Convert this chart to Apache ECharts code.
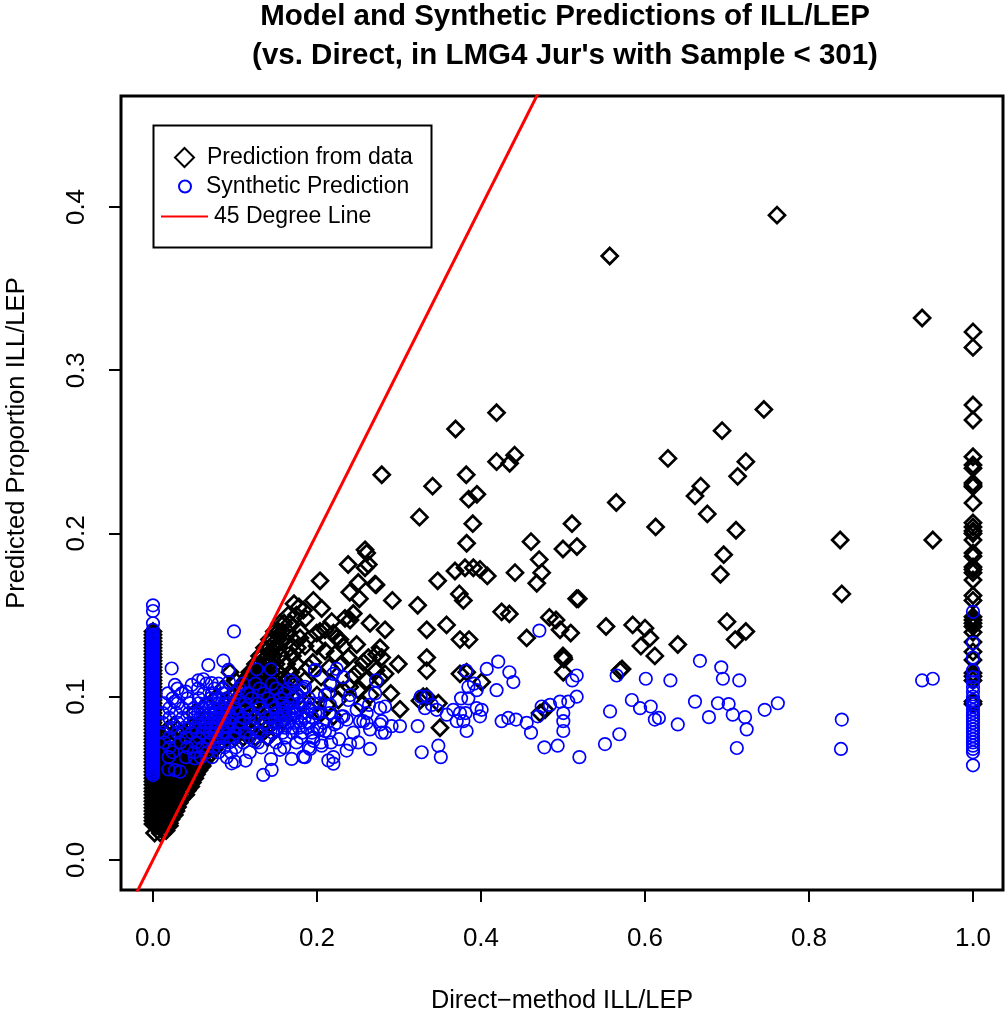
<!DOCTYPE html>
<html><head><meta charset="utf-8">
<style>html,body{margin:0;padding:0;background:#fff}#c{width:1008px;height:1009px}</style>
<script src="https://cdn.jsdelivr.net/npm/echarts@6/dist/echarts.min.js"></script>
</head><body><div id="c"></div>
<script>
const titleText = "Model and Synthetic Predictions of ILL/LEP\n(vs. Direct, in LMG4 Jur's with Sample < 301)";
const xTicks = [0, 0.2, 0.4, 0.6, 0.8, 1.0];
const yTicks = [0, 0.1, 0.2, 0.3, 0.4];
const lineEnds = [[-0.06, -0.06], [0.6, 0.6]];

// y values of the black column at direct = 0
const blackAtZero = [.022,.024,.026,.028,.03,.032,.034,.036,.038,.04,.042,.044,.046,.048,.05,.052,.054,.056,.058,.06,.062,.064,.066,.068,.07,.072,.074,.076,.078,.08,.082,.084,.086,.088,.09,.092,.094,.096,.098,.1,.102,.104,.106,.108,.11,.112,.114,.116,.118,.12,.122,.124,.126,.128,.13,.132,.134,.136,.138,.14];
// y values of the black column at direct = 1
const blackAtOne = [.3235,.314,.2787,.2695,.247,.242,.24,.231,.2297,.2287,.2187,.2065,.204,.2015,.2,.196,.188,.186,.1795,.178,.176,.1715,.162,.159,.149,.147,.145,.143,.1395,.1335,.1275,.1225,.1145,.1125,.11,.097,.0955];
// scattered black points [x, y]
const blackScatter = [[.761,.395],[.557,.37],[.938,.332],[.745,.276],[.419,.274],[.369,.264],[.694,.263],[.628,.246],[.419,.244],[.435,.243],[.441,.248],[.723,.244],[.279,.236],[.382,.236],[.341,.229],[.668,.229],[.661,.223],[.385,.221],[.395,.224],[.565,.219],[.713,.235],[.676,.212],[.325,.21],[.39,.206],[.511,.206],[.613,.204],[.711,.202],[.3825,.194],[.461,.195],[.5,.1905],[.517,.192],[.838,.196],[.951,.196],[.696,.187],[.692,.175],[.84,.163],
[.2586,.19],[.2606,.188],[.238,.181],[.2626,.181],[.2586,.179],[.471,.184],[.2037,.171],[.3472,.171],[.3683,.177],[.3805,.179],[.3907,.179],[.3988,.178],[.4077,.174],[.4415,.176],[.474,.176],[.468,.1695],[.2504,.17],[.2708,.169],[.272,.1685],[.24,.164],[.2517,.16],[.2919,.159],[.3228,.156],[.3736,.163],[.3785,.159],[.4252,.152],[.4346,.1507],[.4834,.1486],[.4915,.147],[.5187,.16],[.5167,.16],[.4964,.141],[.5094,.139],[.5525,.143],[.2342,.148],[.2403,.147],[.2443,.151],[.218,.146],[.2647,.145],[.283,.141],[.3338,.141],[.358,.144],[.3744,.135],[.3854,.135],[.4557,.136],[.2037,.14],[.2098,.141],[.1996,.139],[.22,.139],[.224,.136],[.228,.135],[.232,.131],[.2484,.132],[.1854,.131],[.1793,.136],[.1956,.159],[.2057,.154],[.1834,.153],[.172,.157],[.178,.155],[.186,.148],[.2769,.13],[.2382,.124],[.2728,.126],[.2789,.124],[.2626,.124],[.2565,.121],[.2992,.12],[.3338,.124],[.3338,.116],[.2513,.116],[.283,.114],[.277,.111],[.2606,.11],[.5004,.124],[.501,.123],[.5,.125],[.5004,.115],[.3744,.114],[.3826,.115],[.4008,.109],[.3012,.0923],[.3256,.0976],[.35,.081],[.348,.096],[.3338,.1],[.3295,.1],[.478,.092],[.472,.09],[.5695,.116],[.572,.117],
[.585,.144],[.6,.142],[.595,.131],[.606,.136],[.612,.125],[.64,.132],[.7,.146],[.71,.135],[.723,.14],
[.2,.131],[.21,.128],[.222,.126],[.215,.118],[.23,.12],[.205,.112],[.218,.108],[.232,.104],[.24,.106],[.226,.098],[.195,.121],[.19,.118],[.2,.101],[.212,.095],[.185,.11],[.178,.1],[.192,.092],[.205,.09],[.22,.088],[.245,.113],[.25,.104],[.265,.101],[.272,.116],[.29,.102],[.255,.095]];
// dense black cloud, rows of [y, [x, ...]]
const blackDense = [
[.0165,[.002,.009]],[.018,[.012,.016]],[.021,[.004,.01,.016,.02]],[.0225,[.007,.014,.02]],[.025,[.005,.011,.017,.022]],[.0275,[.003,.009,.015,.021,.026]],[.03,[.004,.012,.018,.024,.028]],[.0325,[.008,.015,.022,.03]],[.035,[.006,.013,.02,.026,.032]],[.0375,[.003,.009,.016,.023,.029,.035]],[.04,[.005,.011,.017,.024,.03,.036,.04]],[.0425,[.008,.015,.021,.028,.035,.042]],[.045,[.007,.013,.019,.026,.033,.04,.046]],[.0475,[.003,.01,.016,.023,.029,.036,.043,.048]],[.05,[.005,.012,.018,.025,.031,.038,.044,.051]],[.0525,[.009,.015,.022,.028,.034,.041,.047,.053]],[.055,[.007,.014,.021,.028,.035,.042,.049,.056]],[.0575,[.004,.011,.018,.025,.032,.039,.046,.053,.06]],[.06,[.006,.013,.02,.027,.034,.041,.048,.055,.062]],[.0625,[.009,.016,.024,.031,.038,.045,.052,.059,.066]],[.065,[.008,.015,.022,.029,.036,.043,.05,.057,.064,.07]],[.0675,[.004,.012,.019,.026,.033,.041,.048,.055,.062,.069,.074]],[.07,[.006,.014,.023,.031,.039,.047,.055,.063,.071,.078]],[.0725,[.009,.018,.027,.035,.043,.051,.059,.067,.075,.083]],
[.075,[.012,.025,.038,.05,.06,.07,.08,.09,.1,.11,.125,.14]],[.0775,[.015,.035,.05,.063,.072,.082,.092,.102,.112,.12,.133]],[.08,[.018,.03,.044,.056,.066,.075,.085,.095,.105,.115,.127,.138,.15]],[.0825,[.025,.05,.063,.078,.088,.098,.11,.122,.132,.143]],[.085,[.06,.072,.082,.09,.1,.108,.118,.128,.136,.147,.158]],[.09,[.05,.075,.087,.094,.102,.11,.12,.13,.14,.15,.16,.172]],[.095,[.065,.09,.099,.106,.113,.122,.131,.139,.148,.156,.165]],[.1,[.078,.098,.105,.112,.12,.128,.136,.144,.152,.16,.17]],[.1025,[.11,.117,.124,.132,.14,.148]],[.105,[.085,.108,.115,.121,.128,.135,.142,.15,.158,.166]],[.1075,[.11,.118,.125,.131,.138]],[.11,[.1,.113,.12,.126,.133,.14,.148,.156,.164,.172]],[.1125,[.116,.122,.129,.136]],[.115,[.094,.118,.124,.13,.137,.145,.152,.168]],[.12,[.125,.13,.136,.142,.15,.163,.175]],[.125,[.13,.134,.14,.147,.155,.17]],[.13,[.136,.142,.148,.154,.167,.176]],[.135,[.142,.146,.152,.16]],[.14,[.148,.153,.158,.164,.18]],[.145,[.155,.16,.167]],[.15,[.165,.175]]];

// y values of the blue column at direct = 0
const blueAtZero = [.052,.053,.054,.055,.056,.057,.058,.059,.06,.061,.062,.063,.064,.065,.066,.067,.068,.069,.07,.071,.072,.073,.074,.075,.076,.077,.078,.079,.08,.081,.082,.083,.084,.085,.086,.087,.088,.089,.09,.091,.092,.093,.094,.095,.096,.097,.098,.099,.1,.101,.102,.103,.104,.105,.106,.107,.108,.109,.11,.111,.112,.113,.114,.115,.116,.117,.118,.119,.12,.121,.122,.123,.124,.125,.126,.127,.128,.129,.13,.131,.132,.133,.134,.135,.136,.137,.138,.141,.145,.1525,.156];
// y values of the blue column at direct = 1
const blueAtOne = [.152,.133,.124,.116,.112,.109,.106,.103,.1,.098,.096,.094,.092,.09,.088,.086,.084,.082,.08,.078,.076,.074,.072,.07,.068,.066,.058];
// scattered blue points [x, y]
const blueScatter = [[.4712,.1405],[.421,.1215],[.407,.117],[.4346,.115],[.4395,.109],[.419,.104],[.3817,.116],[.3846,.106],[.3915,.108],[.3947,.104],[.3757,.099],[.3846,.099],[.3663,.092],[.3744,.09],[.3813,.09],[.3947,.093],[.4008,.092],[.3988,.088],[.3704,.085],[.3785,.085],[.3825,.079],[.3582,.089],[.346,.092],[.3338,.1],[.3265,.1],[.3317,.093],[.34,.095],[.3228,.082],[.3277,.066],[.348,.07],[.351,.063],[.3012,.082],[.291,.082],[.272,.11],[.271,.102],[.2635,.095],[.2769,.093],[.283,.094],[.2484,.092],[.2606,.09],[.2321,.088],[.2362,.086],[.2525,.085],[.2565,.085],[.2606,.084],[.2647,.08],[.2789,.085],[.2789,.078],[.283,.078],[.2769,.083],[.2443,.078],[.2504,.072],[.2647,.068],[.2362,.067],[.2403,.071],[.2269,.074],[.2171,.072],[.2057,.07],[.1956,.073],[.1915,.068],[.1854,.063],[.2139,.061],[.22,.059],[.22,.063],[.2212,.083],[.2037,.08],[.2098,.079],[.1976,.116],[.224,.117],[.22,.114],[.232,.112],[.2159,.108],[.2139,.102],[.2098,.101],[.2403,.101],[.2382,.098],[.2037,.096],[.1956,.096],[.2159,.095],[.1854,.096],[.1813,.104],[.1854,.106],[.2017,.09],[.2301,.088],[.4252,.085],[.4333,.087],[.4427,.086],[.4557,.084],[.461,.078],[.4692,.088],[.474,.094],[.4842,.095],[.4773,.069],[.4935,.07],[.52,.063],[.4964,.097],[.5065,.097],[.5167,.1],[.5004,.09],[.5004,.085],[.5004,.079],[.5114,.11],[.5167,.113],[.5574,.091],[.5512,.071],[.5687,.077],[.5655,.113],
[.584,.098],[.594,.093],[.607,.094],[.601,.111],[.631,.11],[.612,.086],[.617,.087],[.64,.083],[.661,.097],[.667,.122],[.693,.118],[.695,.111],[.689,.096],[.702,.0955],[.707,.089],[.678,.0875],[.715,.11],[.722,.0875],[.724,.08],[.712,.0686],[.746,.092],[.762,.096],[.84,.086],[.839,.068],[.938,.11],[.951,.111],
[.0988,.14],[.0228,.1173],[.0268,.1072],[.0675,.1194],[.0858,.1221],[.0919,.1164],[.0927,.109],[.1439,.1168],[.1264,.1168],[.1975,.1164],[.1679,.11],[.1833,.105],[.0402,.1031],[.0472,.1072],[.0553,.11],[.0614,.1107],[.0716,.1083],[.0268,.097],
[.0187,.0555],[.0268,.055],[.033,.0541],[.0512,.0622],[.0959,.0592],[.113,.0609],[.0999,.0602],[.1345,.0521],[.1447,.0552],[.1439,.0618],[.1244,.0726],[.1549,.0675],[.1691,.0619],[.1833,.0633]];
// dense blue cloud, rows of [y, [x, ...]]
const blueDense = [
[.063,[.019,.04,.058,.072,.09]],[.066,[.024,.05,.066,.08,.095,.118]],[.069,[.02,.042,.06,.074,.087,.101,.132,.16,.19]],[.072,[.014,.033,.052,.068,.08,.093,.11,.128,.15,.175,.205]],[.075,[.02,.04,.056,.066,.076,.086,.098,.118,.14,.162,.18,.195]],[.078,[.012,.03,.047,.06,.069,.078,.088,.1,.112,.13,.146,.158,.17,.182,.194,.215]],[.081,[.022,.038,.052,.062,.07,.077,.084,.092,.104,.122,.14,.152,.161,.17,.178,.188,.2]],[.084,[.012,.03,.045,.056,.064,.071,.079,.086,.094,.106,.118,.135,.148,.157,.165,.172,.18,.19,.208,.225]],[.087,[.02,.036,.05,.06,.067,.074,.081,.088,.096,.11,.125,.142,.152,.16,.168,.176,.185,.195]],[.09,[.012,.028,.044,.055,.063,.07,.077,.084,.092,.102,.118,.136,.15,.158,.166,.174,.183,.198,.215]],[.093,[.02,.036,.05,.06,.068,.075,.082,.09,.1,.114,.13,.148,.16,.17,.18,.19]],[.096,[.014,.03,.045,.056,.065,.073,.08,.088,.098,.112,.128,.145,.158,.168,.178]],[.099,[.024,.042,.056,.07,.08,.09,.104,.12,.14,.155,.17,.19]],[.102,[.018,.035,.062,.072,.085,.1,.115,.135,.16,.175]],[.105,[.03,.055,.075,.085,.105,.13,.15,.165]],[.108,[.065,.08,.11,.125,.145,.172]]];

const expand = rows => rows.flatMap(r => r[1].map(x => [x, r[0]]));
const black = blackAtZero.map(y => [0, y]).concat(blackAtOne.map(y => [1, y]), expand(blackDense), blackScatter);
const blue = blueAtZero.map(y => [0, y]).concat(blueAtOne.map(y => [1, y]), expand(blueDense), blueScatter);

const FONT = '"Liberation Sans", Arial, sans-serif';
const S1 = 'Prediction from data', S2 = 'Synthetic Prediction', S3 = '45 Degree Line';
const legendBase = {fontFamily: FONT, fontSize: 23, color: '#000'};
const chart = echarts.init(document.getElementById('c'), null, {renderer: 'canvas'});
chart.setOption({
  animation: false,
  backgroundColor: '#fff',
  title: {text: titleText, left: 560, top: -8, textAlign: 'center',
    textStyle: {fontFamily: FONT, fontSize: 29.5, fontWeight: 'bold', color: '#000', lineHeight: 39}},
  grid: {left: 121, top: 96, width: 882, height: 794, outerBoundsMode: 'none', containLabel: false, show: true, borderColor: '#000', borderWidth: 3, backgroundColor: 'transparent'},
  xAxis: {type: 'value', min: -0.039, max: 1.0366, splitLine: {show: false},
    axisLine: {show: false, onZero: false},
    axisTick: {show: true, length: 12, lineStyle: {color: '#000', width: 2}, customValues: xTicks},
    axisLabel: {customValues: xTicks, formatter: v => v.toFixed(1), fontFamily: FONT, fontSize: 26, color: '#000', margin: 36, hideOverlap: false},
    name: 'Direct\u2212method ILL/LEP', nameLocation: 'middle', nameGap: 99,
    nameTextStyle: {fontFamily: FONT, fontSize: 25.3, color: '#000'}},
  yAxis: {type: 'value', min: -0.0184, max: 0.468, splitLine: {show: false},
    axisLine: {show: false, onZero: false},
    axisTick: {show: true, length: 12, lineStyle: {color: '#000', width: 2}, customValues: yTicks},
    axisLabel: {customValues: yTicks, formatter: v => v.toFixed(1), rotate: 90, fontFamily: FONT, fontSize: 26, color: '#000', margin: 31, hideOverlap: false},
    name: 'Predicted Proportion ILL/LEP', nameLocation: 'middle', nameGap: 91,
    nameTextStyle: {fontFamily: FONT, fontSize: 25.6, color: '#000', padding: [0, 0, 0, 100]}},
  legend: [
    {data: [S1], left: 174, top: 146, itemWidth: 19, itemHeight: 19, textStyle: Object.assign({padding: [0, 0, 0, 8]}, legendBase), selectedMode: false, padding: 0},
    {data: [S2], left: 178, top: 175, itemWidth: 12, itemHeight: 12, textStyle: Object.assign({padding: [0, 0, 0, 10]}, legendBase), selectedMode: false, padding: 0},
    {data: [S3], left: 160, top: 205, itemWidth: 47, itemHeight: 14, textStyle: Object.assign({padding: [0, 0, 0, 1]}, legendBase), lineStyle: {width: 2}, itemStyle: {color: 'transparent', borderColor: 'transparent', opacity: 0}, selectedMode: false, padding: 0}
  ],
  graphic: [{type: 'rect', shape: {x: 153.5, y: 125.5, width: 278, height: 122}, style: {fill: 'transparent', stroke: '#000', lineWidth: 2}, z: 20, silent: true}],
  series: [
    {name: S1, type: 'scatter', data: black, symbol: 'diamond', symbolSize: 16, z: 2, itemStyle: {color: 'transparent', borderColor: '#000', borderWidth: 2.7, opacity: 1}, large: false},
    {name: S2, type: 'scatter', data: blue, symbol: 'circle', symbolSize: 12.5, z: 3, itemStyle: {color: 'transparent', borderColor: '#0000ff', borderWidth: 1.7, opacity: 1}, large: false},
    {name: S3, type: 'line', data: lineEnds, showSymbol: false, symbol: 'none', z: 4, clip: true, lineStyle: {color: '#ff0000', width: 3}, itemStyle: {color: '#ff0000'}}
  ]
});
</script></body></html>
